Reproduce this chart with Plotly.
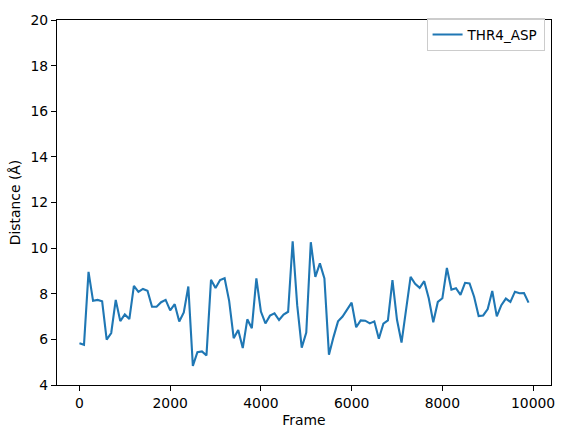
import plotly.graph_objects as go

frames = list(range(0, 10000, 100))
thr4_asp = [
    5.83, 5.76, 8.96, 7.69, 7.73, 7.67, 5.99, 6.28, 7.73, 6.80,
    7.09, 6.89, 8.35, 8.08, 8.21, 8.13, 7.43, 7.43, 7.63, 7.73,
    7.27, 7.54, 6.78, 7.18, 8.32, 4.84, 5.44, 5.47, 5.30, 8.61,
    8.25, 8.60, 8.68, 7.69, 6.05, 6.41, 5.62, 6.88, 6.49, 8.67,
    7.22, 6.70, 7.04, 7.14, 6.85, 7.09, 7.21, 10.30, 7.50, 5.64,
    6.30, 10.26, 8.74, 9.33, 8.67, 5.33, 6.10, 6.79, 7.00, 7.28,
    7.61, 6.53, 6.83, 6.82, 6.70, 6.79, 6.03, 6.69, 6.83, 8.60,
    6.86, 5.86, 7.28, 8.74, 8.44, 8.26, 8.55, 7.80, 6.75, 7.64,
    7.80, 9.13, 8.18, 8.24, 7.95, 8.48, 8.45, 7.87, 7.02, 7.05,
    7.33, 8.12, 7.01, 7.50, 7.79, 7.64, 8.09, 8.02, 8.03, 7.61,
]
x_ticks = [0, 2000, 4000, 6000, 8000, 10000]
x_tick_labels = ["0", "2000", "4000", "6000", "8000", "10000"]
y_ticks = [4, 6, 8, 10, 12, 14, 16, 18, 20]
y_tick_labels = ["4", "6", "8", "10", "12", "14", "16", "18", "20"]

FONT = "DejaVu Sans"
FS = 13.9

fig = go.Figure()
fig.add_trace(go.Scatter(
    x=frames, y=thr4_asp, mode="lines", name="THR4_ASP",
    line=dict(color="#1f77b4", width=2.1),
))

axis_common = dict(
    showgrid=False, zeroline=False, showline=True, linecolor="black",
    linewidth=1.1, mirror=True, ticks="outside", ticklen=5, tickwidth=1.1,
    tickcolor="black", tickfont=dict(family=FONT, size=FS, color="black"),
)
fig.update_layout(
    width=567, height=438,
    margin=dict(l=57, r=14, t=16, b=53),
    paper_bgcolor="white", plot_bgcolor="white",
    font=dict(family=FONT, size=FS, color="black"),
    xaxis=dict(range=[-495, 10395], tickvals=x_ticks, ticktext=x_tick_labels,
               title=dict(text="Frame", font=dict(family=FONT, size=FS), standoff=5),
               **axis_common),
    yaxis=dict(range=[4, 20], tickvals=y_ticks, ticktext=y_tick_labels,
               title=dict(text="Distance (Å)", font=dict(family=FONT, size=FS), standoff=6),
               **axis_common),
    showlegend=True,
    legend=dict(x=0.987, xanchor="right", y=1.005, yanchor="top",
                bgcolor="rgba(255,255,255,0.8)", bordercolor="#cccccc",
                borderwidth=1, font=dict(family=FONT, size=13.5)),
)
fig.write_html("out.html")
